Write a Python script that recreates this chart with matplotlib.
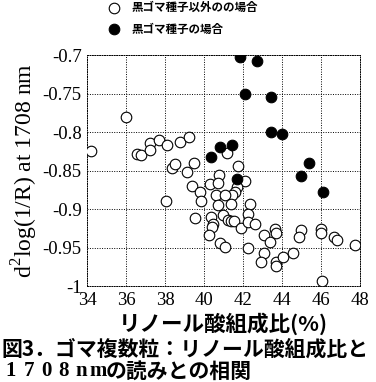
import numpy as np
import matplotlib.pyplot as plt
from matplotlib.ticker import FixedLocator

plt.rcParams['axes.unicode_minus'] = False

JP = ['Noto Sans CJK JP', 'DejaVu Sans']
SERIF = ['Liberation Serif', 'DejaVu Serif']

# 黒ゴマ種子以外 (open circles)
other_x = [35.97, 34.19, 36.56, 36.74, 37.2, 37.2, 37.7, 38.1, 38.74, 39.25,
           38.33, 38.53, 39.13, 38.04, 41.2, 39.47, 41.75, 40.77, 39.4, 39.78,
           39.85, 40.3, 40.7, 42.1, 41.7, 41.6, 41.43, 40.63, 41.06, 40.72,
           41.37, 42.35, 39.53, 40.36, 40.46, 40.43, 40.97, 41.23, 41.4, 41.54,
           41.9, 42.26, 42.26, 42.6, 40.26, 40.84, 41.1, 42.26, 43.06, 43.37,
           43.63, 43.71, 43.06, 42.94, 43.68, 43.71, 44.05, 44.57, 45.0, 44.9,
           46.02, 46.02, 46.65, 46.82, 47.73, 46.05]
other_y = [-0.781, -0.825, -0.829, -0.830, -0.814, -0.823, -0.810, -0.817, -0.813, -0.806,
           -0.847, -0.842, -0.852, -0.889, -0.827, -0.840, -0.844, -0.856, -0.870, -0.878,
           -0.890, -0.867, -0.866, -0.864, -0.871, -0.878, -0.882, -0.882, -0.882, -0.895,
           -0.893, -0.894, -0.911, -0.910, -0.919, -0.923, -0.908, -0.914, -0.916, -0.915,
           -0.924, -0.906, -0.917, -0.919, -0.934, -0.944, -0.949, -0.950, -0.933, -0.943,
           -0.926, -0.931, -0.957, -0.969, -0.969, -0.974, -0.962, -0.957, -0.927, -0.936,
           -0.926, -0.931, -0.936, -0.940, -0.946, -0.993]

# 黒ゴマ種子 (filled circles)
black_x = [41.85, 42.7, 42.1, 43.45, 43.45, 44.0, 40.84, 41.46, 40.38, 41.7,
           45.37, 44.96, 46.1]
black_y = [-0.702, -0.708, -0.750, -0.754, -0.800, -0.802, -0.820, -0.817, -0.832, -0.861,
           -0.840, -0.857, -0.878]

xticks = [34, 36, 38, 40, 42, 44, 46, 48]
yticks = [-1, -0.95, -0.9, -0.85, -0.8, -0.75, -0.7]
ytick_labels = ['-1', '-0.95', '-0.9', '-0.85', '-0.8', '-0.75', '-0.7']

fig = plt.figure(figsize=(3.76, 3.82), dpi=100)
ax = fig.add_axes([0.232, 0.251, 0.725, 0.605])

h1 = ax.scatter(other_x, other_y, s=58, facecolors='white', edgecolors='black',
                linewidths=0.8, zorder=3)
h2 = ax.scatter(black_x, black_y, s=58, facecolors='black', edgecolors='black',
                linewidths=0.8, zorder=4)

ax.set_xlim(34, 48)
ax.set_ylim(-1, -0.7)
ax.xaxis.set_major_locator(FixedLocator(xticks))
ax.set_yticks(yticks)
ax.set_yticklabels(ytick_labels)
ax.tick_params(length=0, labelsize=13.5, pad=4)
for lab in ax.get_xticklabels() + ax.get_yticklabels():
    lab.set_family(SERIF)

ax.grid(True, color='black', linestyle=(0, (1, 1.5)), linewidth=0.7)
for sp in ax.spines.values():
    sp.set_linestyle((0, (1, 1.5)))
    sp.set_linewidth(0.7)

ax.set_ylabel(r'd$^{\mathregular{2}}$log(1/R) at 1708 nm', family=SERIF,
              fontsize=17, labelpad=2)
ax.set_xlabel('リノール酸組成比(%)', family=JP, fontsize=15.5, fontweight='bold',
              labelpad=3)

fig.legend([h1, h2], ['黒ゴマ種子以外のの場合', '黒ゴマ種子の場合'],
           loc='upper left', bbox_to_anchor=(0.26, 1.01), frameon=False,
           prop={'family': JP, 'size': 8.3, 'weight': 'bold'},
           handletextpad=0.5, labelspacing=0.75, borderaxespad=0)

fig.text(0.005, 0.085, '図3．ゴマ複数粒：リノール酸組成比と', family=JP,
         fontsize=15, fontweight='bold', va='center')
# "1708nm" is set wide, one character per cell
for i, ch in enumerate('1708nm'):
    fig.text((11 + i * 17.5) / 376, 0.028, ch, family=SERIF, fontsize=15,
             fontweight='bold', ha='center', va='center')
fig.text(0.282, 0.028, 'の読みとの相関', family=JP,
         fontsize=15, fontweight='bold', va='center')

fig.savefig('out.png', dpi=100)
